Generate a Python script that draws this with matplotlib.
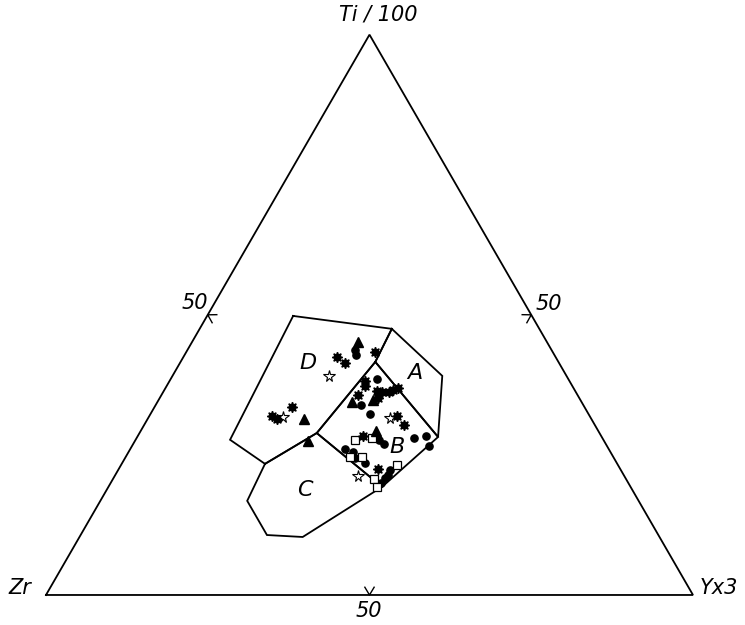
import numpy as np
import matplotlib
matplotlib.use("Agg")
import matplotlib.pyplot as plt

# Ti/100 - Zr - Y*3 discrimination diagram (percent of each apex)
# Field boundaries, given as (Ti, Y) percentages; Zr = 100 - Ti - Y
field_A = [(47.5, 29.7), (39.1, 41.7), (28.2, 46.5), (41.6, 30.1)]
field_B = [(41.6, 30.1), (28.2, 46.5), (19.3, 42.3), (28.9, 27.4)]
field_D = [(49.8, 13.3), (47.5, 29.7), (41.6, 30.1), (28.9, 27.4),
           (23.4, 22.15), (27.7, 14.6)]
field_C = [(23.4, 22.15), (28.9, 27.4), (19.3, 42.3), (10.35, 34.5),
           (10.7, 28.8), (16.8, 22.7)]
field_names = ["A", "B", "C", "D"]
field_label_pos = [(39.6, 37.2), (26.4, 41.0), (18.7, 30.7), (41.4, 19.8)]

# Samples (Ti %, Y %) grouped by symbol
circle_ti = [43.7, 42.8, 38.6, 33.9, 32.3, 27.7, 27.0, 28.0, 28.3, 26.5,
             26.1, 25.6, 24.5, 23.6, 22.3, 21.4, 20.8, 19.9]
circle_y = [25.9, 26.5, 31.8, 31.7, 33.9, 37.6, 38.7, 42.9, 44.6, 46.0,
            33.2, 34.7, 35.5, 37.5, 42.0, 42.2, 42.0, 41.9]

square_ti = [27.6, 28.0, 24.7, 24.7, 23.2, 20.7, 19.3]
square_y = [34.0, 36.4, 34.7, 36.5, 42.6, 40.3, 41.5]

triangle_ti = [45.2, 34.5, 34.8, 29.3, 31.4, 27.5]
triangle_y = [25.7, 30.0, 33.2, 36.4, 24.2, 26.8]

openstar_ti = [39.0, 31.8, 31.6, 21.2]
openstar_y = [24.2, 20.8, 37.3, 37.6]

burst_ti = [43.3, 42.4, 41.4, 38.1, 37.3, 35.7, 36.4, 36.3, 36.3, 36.6,
            36.9, 35.1, 32.0, 30.4, 32.0, 31.4, 33.6, 28.3, 22.4]
burst_y = [29.2, 23.8, 25.5, 30.3, 30.6, 30.4, 32.9, 33.8, 34.8, 35.4,
           36.0, 33.8, 38.2, 40.1, 18.9, 20.0, 21.2, 34.8, 40.1]

H = np.sqrt(3) / 2


def to_xy(ti, y):
    ti = np.asarray(ti, float) / 100.0
    y = np.asarray(y, float) / 100.0
    return y + ti / 2.0, ti * H


fig = plt.figure(figsize=(7.45, 6.25), dpi=100)
ax = fig.add_axes([0, 0, 1, 1])
ax.set_xlim(-0.0711, 1.0804)
ax.set_ylim(-0.0464, 0.9196)
ax.axis("off")

# outer triangle
ax.plot([0, 1, 0.5, 0], [0, 0, H, 0], color="black", lw=1.3,
        solid_joinstyle="miter")

# 50 % chevrons pointing into the triangle
def chevron(px, py, nx, ny):
    tx, ty = -ny, nx
    s = 0.012
    ax.plot([px + nx * s + tx * s * 0.6, px, px + nx * s - tx * s * 0.6],
            [py + ny * s + ty * s * 0.6, py, py + ny * s - ty * s * 0.6],
            color="black", lw=1.0)

chevron(0.5, 0.0, 0.0, 1.0)
chevron(0.25, H / 2, H, -0.5)
chevron(0.75, H / 2, -H, -0.5)

tfont = dict(fontsize=15, style="italic", color="black",
             family="DejaVu Sans")
ax.text(0.514, 0.897, "Ti / 100", ha="center", va="center", **tfont)
ax.text(-0.041, 0.011, "Zr", ha="center", va="center", **tfont)
ax.text(1.040, 0.011, "Yx3", ha="center", va="center", **tfont)
ax.text(0.499, -0.025, "50", ha="center", va="center", **tfont)
ax.text(0.230, 0.452, "50", ha="center", va="center", **tfont)
ax.text(0.777, 0.449, "50", ha="center", va="center", **tfont)

# discrimination fields
for poly in (field_A, field_B, field_C, field_D):
    ti, y = zip(*poly)
    x, yy = to_xy(list(ti) + [ti[0]], list(y) + [y[0]])
    ax.plot(x, yy, color="black", lw=1.3, solid_joinstyle="miter")

for name, (ti, y) in zip(field_names, field_label_pos):
    x, yy = to_xy(ti, y)
    ax.text(x, yy, name, ha="center", va="center", fontsize=16,
            style="italic", family="DejaVu Sans")

# samples
x, y = to_xy(circle_ti, circle_y)
ax.plot(x, y, "o", ms=5.2, color="black", ls="none")
x, y = to_xy(square_ti, square_y)
ax.plot(x, y, "s", ms=6, mfc="white", mec="black", mew=0.9, ls="none")
x, y = to_xy(triangle_ti, triangle_y)
ax.plot(x, y, "^", ms=6.5, color="black", ls="none")
x, y = to_xy(openstar_ti, openstar_y)
ax.plot(x, y, "*", ms=8.5, mfc="white", mec="black", mew=0.8, ls="none")
x, y = to_xy(burst_ti, burst_y)
ax.plot(x, y, marker=(8, 1, 0), ms=7.5, color="black", ls="none")

fig.savefig("out.png", dpi=100, facecolor="white")
